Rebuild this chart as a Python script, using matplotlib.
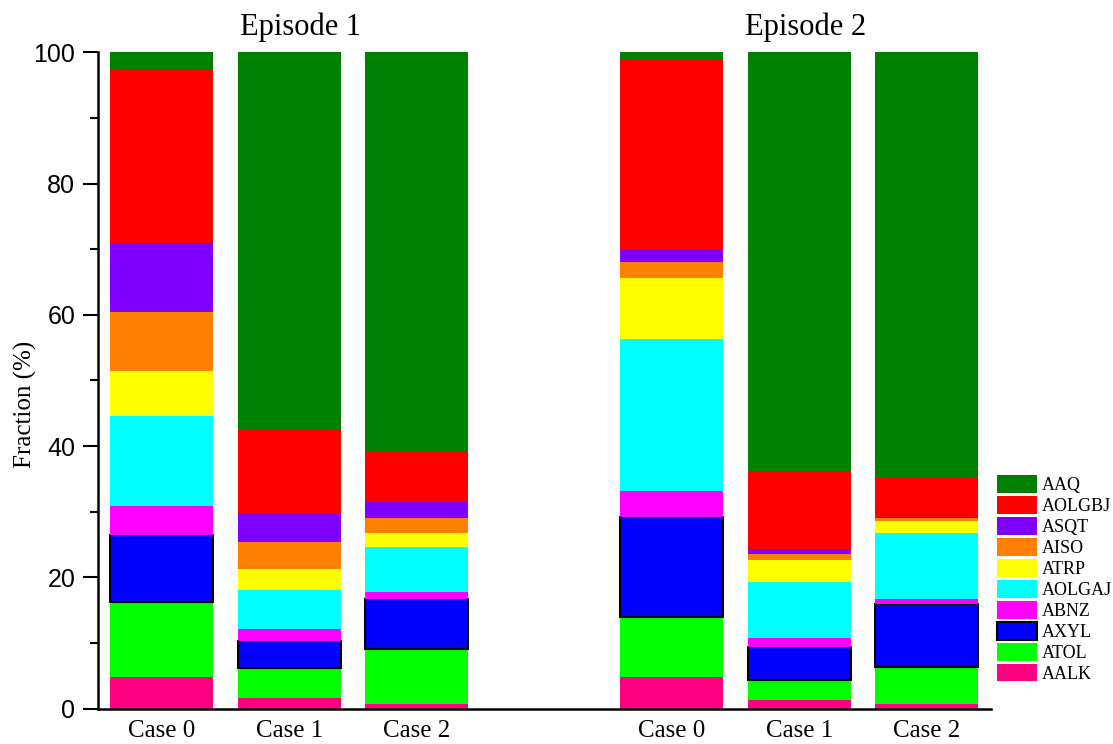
import matplotlib
matplotlib.use("Agg")
import matplotlib.pyplot as plt
from matplotlib.ticker import MultipleLocator
import numpy as np

# Species contributions (%) for each case, stacked bottom to top
cases = ["Case 0", "Case 1", "Case 2", "Case 0", "Case 1", "Case 2"]
positions = [0, 1, 2, 4, 5, 6]
episodes = ["Episode 1", "Episode 2"]

species = ["AALK", "ATOL", "AXYL", "ABNZ", "AOLGAJ", "ATRP", "AISO", "ASQT", "AOLGBJ", "AAQ"]
AALK   = [4.75, 1.55, 0.70, 4.75, 1.30, 0.65]
ATOL   = [11.45, 4.65, 8.30, 9.25, 3.00, 5.75]
AXYL   = [10.20, 4.10, 7.70, 15.20, 5.10, 9.60]
ABNZ   = [4.50, 1.80, 1.00, 4.00, 1.40, 0.70]
AOLGAJ = [13.60, 6.00, 6.90, 23.10, 8.50, 10.00]
ATRP   = [7.00, 3.20, 2.10, 9.30, 3.40, 1.90]
AISO   = [8.90, 4.00, 2.40, 2.50, 0.90, 0.40]
ASQT   = [10.50, 4.30, 2.40, 1.80, 0.70, 0.20]
AOLGBJ = [26.50, 13.00, 7.60, 29.00, 11.80, 6.10]
AAQ    = [2.60, 57.40, 60.90, 1.10, 63.90, 64.70]

series = [AALK, ATOL, AXYL, ABNZ, AOLGAJ, ATRP, AISO, ASQT, AOLGBJ, AAQ]
colors = ["#FF0080", "#00FF00", "#0000FF", "#FF00FF", "#00FFFF",
          "#FFFF00", "#FF8000", "#8000FF", "#FF0000", "#008000"]

serif = ["Liberation Serif", "DejaVu Serif"]
sans = ["Liberation Sans", "DejaVu Sans"]

fig = plt.figure(figsize=(11.13, 7.44), dpi=100)
ax = fig.add_axes([0.088, 0.0477, 0.802, 0.882])

bottom = np.zeros(len(positions))
handles = []
for name, vals, col in zip(species, series, colors):
    vals = np.array(vals)
    if name == "AXYL":
        bars = ax.bar(positions, vals, width=0.81, bottom=bottom, color=col,
                      edgecolor="black", linewidth=1.5, label=name)
    else:
        bars = ax.bar(positions, vals, width=0.81, bottom=bottom, color=col,
                      edgecolor="none", linewidth=0, label=name)
    handles.append(bars)
    bottom += vals

ax.set_xlim(-0.5, 6.5)
ax.set_ylim(0, 100)

ax.set_xticks(positions)
ax.set_xticklabels(cases, fontsize=18, family=serif)
ax.tick_params(axis="x", length=0, pad=8)

ax.yaxis.set_major_locator(MultipleLocator(20))
ax.yaxis.set_minor_locator(MultipleLocator(10))
ax.tick_params(axis="y", which="major", direction="out", length=10.5, width=1.5,
               labelsize=18, pad=5.8)
ax.tick_params(axis="y", which="minor", direction="out", length=5.5, width=1.5)
for lab in ax.get_yticklabels():
    lab.set_family(sans)

ax.set_ylabel("Fraction (%)", fontsize=18, family=serif)
ax.yaxis.set_label_coords(-0.068, 0.464)

for side in ("top", "right"):
    ax.spines[side].set_visible(False)
for side in ("left", "bottom"):
    ax.spines[side].set_linewidth(1.8)

# Episode headings above each group
ax.text(1.09, 1.0 + 25 / 656, episodes[0], transform=ax.get_xaxis_transform(),
        ha="center", va="center", fontsize=22, family=serif)
ax.text(5.05, 1.0 + 25 / 656, episodes[1], transform=ax.get_xaxis_transform(),
        ha="center", va="center", fontsize=22, family=serif)

leg = fig.legend(handles[::-1], species[::-1], loc="upper left",
                 bbox_to_anchor=(0.896, 0.361), frameon=False,
                 prop={"family": serif, "size": 13},
                 handlelength=2.2, handleheight=1.1, labelspacing=0.12,
                 handletextpad=0.25, borderpad=0, borderaxespad=0)

fig.savefig("out.png", dpi=100)
